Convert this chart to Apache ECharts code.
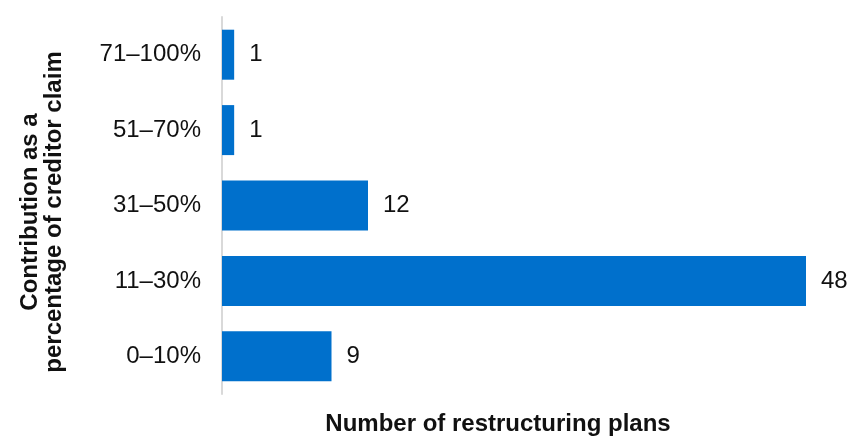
<!DOCTYPE html>
<html>
<head>
<meta charset="utf-8">
<script src="https://cdn.jsdelivr.net/npm/echarts@6/dist/echarts.min.js"></script>
<style>
  html, body { margin: 0; padding: 0; background: #ffffff; }
  #chart { width: 851px; height: 436px; }
</style>
</head>
<body>
<div id="chart"></div>
<script>
// Contribution bands, bottom to top
const categories = ['0–10%', '11–30%', '31–50%', '51–70%', '71–100%'];
// Number of restructuring plans in each band
const planCounts = [9, 48, 12, 1, 1];

const xTitle = 'Number of restructuring plans';
const yTitle = 'Contribution as a\npercentage of creditor claim';

const FONT = '"Liberation Sans", Arial, Helvetica, sans-serif';
const BAR_COLOR = '#0070cc';
const TEXT_COLOR = '#111111';

const chart = echarts.init(document.getElementById('chart'), null, { renderer: 'canvas' });

chart.setOption({
  animation: false,
  backgroundColor: '#ffffff',
  grid: { left: 222, right: 45, top: 17, bottom: 42, containLabel: false },
  xAxis: {
    type: 'value',
    min: 0,
    max: 48,
    axisLine: { show: false },
    axisTick: { show: false },
    axisLabel: { show: false },
    splitLine: { show: false }
  },
  yAxis: {
    type: 'category',
    data: categories,
    axisLine: { show: true, lineStyle: { color: '#d9d9d9', width: 2 } },
    axisTick: { show: false },
    axisLabel: { color: TEXT_COLOR, fontFamily: FONT, fontSize: 24, margin: 21 },
    splitLine: { show: false }
  },
  series: [{
    type: 'bar',
    data: planCounts,
    barWidth: 50,
    itemStyle: { color: BAR_COLOR },
    label: {
      show: true,
      position: 'right',
      distance: 15,
      color: TEXT_COLOR,
      fontFamily: FONT,
      fontSize: 24
    }
  }],
  graphic: [
    {
      type: 'text',
      x: 498,
      y: 424,
      style: {
        text: xTitle,
        fill: TEXT_COLOR,
        font: 'bold 24px ' + FONT,
        textAlign: 'center',
        textVerticalAlign: 'middle'
      }
    },
    {
      type: 'text',
      x: 42,
      y: 212,
      rotation: Math.PI / 2,
      style: {
        text: yTitle,
        fill: TEXT_COLOR,
        font: 'bold 24px ' + FONT,
        lineHeight: 24,
        textAlign: 'center',
        textVerticalAlign: 'middle'
      }
    }
  ]
});
</script>
</body>
</html>
